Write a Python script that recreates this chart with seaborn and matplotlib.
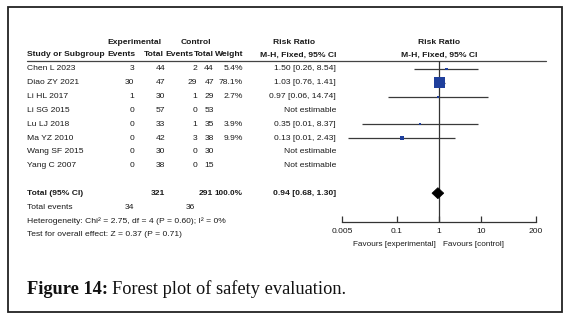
import numpy as np
import pandas as pd
import matplotlib
matplotlib.use("Agg")
import matplotlib.pyplot as plt
import seaborn as sns
from matplotlib.patches import Rectangle, Polygon
from matplotlib.ticker import NullLocator, FixedLocator, FixedFormatter

# ---------------- data ----------------
studies = ["Chen L 2023", "Diao ZY 2021", "Li HL 2017", "Li SG 2015",
           "Lu LJ 2018", "Ma YZ 2010", "Wang SF 2015", "Yang C 2007"]
exp_events = [3, 30, 1, 0, 0, 0, 0, 0]
exp_total = [44, 47, 30, 57, 33, 42, 30, 38]
ctrl_events = [2, 29, 1, 0, 1, 3, 0, 0]
ctrl_total = [44, 47, 29, 53, 35, 38, 30, 15]
weight = [5.4, 78.1, 2.7, np.nan, 3.9, 9.9, np.nan, np.nan]
rr = [1.50, 1.03, 0.97, np.nan, 0.35, 0.13, np.nan, np.nan]
rr_lo = [0.26, 0.76, 0.06, np.nan, 0.0149, 0.0069, np.nan, np.nan]
rr_hi = [8.54, 1.41, 14.74, np.nan, 8.37, 2.43, np.nan, np.nan]

total_exp = 321
total_ctrl = 291
total_weight = 100.0
total_rr, total_lo, total_hi = 0.94, 0.68, 1.30
total_events_exp, total_events_ctrl = 34, 36
heterogeneity = "Heterogeneity: Chi\u00b2 = 2.75, df = 4 (P = 0.60); I\u00b2 = 0%"
overall_effect = "Test for overall effect: Z = 0.37 (P = 0.71)"

xticks = [0.005, 0.1, 1, 10, 200]
xtick_labels = ["0.005", "0.1", "1", "10", "200"]
favours_left = "Favours [experimental]"
favours_right = "Favours [control]"
caption_bold = "Figure 14:"
caption_text = "Forest plot of safety evaluation."

# ---------------- layout ----------------
W, H = 570, 321
ROW0, DY = 69.0, 13.8
PX_PER_DEC, X_ONE = 42.0, 439.0
AX_L, AX_R, AX_T, AX_B = 330, 552, 60.5, 222

sns.set_theme(style="white")
plt.rcParams['font.family'] = ['Liberation Sans', 'DejaVu Sans']
TXT = "#1a1a1a"
FS = 6.1

fig = plt.figure(figsize=(W / 100, H / 100), dpi=100)
tax = fig.add_axes([0, 0, 1, 1])
tax.set_xlim(0, W)
tax.set_ylim(H, 0)
tax.axis("off")

def t(x, y, s, ha="left", bold=False, size=FS, **kw):
    return tax.text(x, y, s, ha=ha, va="center", fontsize=size,
                    fontweight="bold" if bold else "normal", color=TXT, **kw)

# column right edges
C_EE, C_ET, C_CE, C_CT, C_W, C_RR = 134, 165, 197, 214, 243, 336

# headers
t(134, 42, "Experimental", ha="center", bold=True)
t(196, 42, "Control", ha="center", bold=True)
t(294, 42, "Risk Ratio", ha="center", bold=True)
t(X_ONE, 42, "Risk Ratio", ha="center", bold=True)
t(27, 55, "Study or Subgroup", bold=True)
t(136, 55, "Events", ha="right", bold=True)
t(163.5, 55, "Total", ha="right", bold=True)
t(193.5, 55, "Events", ha="right", bold=True)
t(C_CT, 55, "Total", ha="right", bold=True)
t(C_W, 55, "Weight", ha="right", bold=True)
t(C_RR, 55, "M-H, Fixed, 95% CI", ha="right", bold=True)
t(X_ONE, 55, "M-H, Fixed, 95% CI", ha="center", bold=True)
tax.plot([27, 546], [AX_T, AX_T], color="#444444", lw=0.9)

# study rows
for i, name in enumerate(studies):
    y = ROW0 + DY * i
    t(27, y, name)
    t(C_EE, y, str(exp_events[i]), ha="right")
    t(C_ET, y, str(exp_total[i]), ha="right")
    t(C_CE, y, str(ctrl_events[i]), ha="right")
    t(C_CT, y, str(ctrl_total[i]), ha="right")
    if not np.isnan(weight[i]):
        t(C_W, y, f"{weight[i]:.1f}%", ha="right")
        t(C_RR, y, f"{rr[i]:.2f} [{rr_lo[i]:.2f}, {rr_hi[i]:.2f}]", ha="right")
    else:
        t(C_RR, y, "Not estimable", ha="right")

# totals
TOT_ROW = len(studies) + 1
yT = ROW0 + DY * TOT_ROW
t(27, yT, "Total (95% CI)", bold=True)
t(C_ET, yT, str(total_exp), ha="right", bold=True)
t(C_CT - 1, yT, str(total_ctrl), ha="right", bold=True)
t(C_W, yT, f"{total_weight:.1f}%", ha="right", bold=True, size=5.9)
t(C_RR, yT, f"{total_rr:.2f} [{total_lo:.2f}, {total_hi:.2f}]", ha="right", bold=True)
t(27, 207.5, "Total events")
t(C_EE, 207.5, str(total_events_exp), ha="right")
t(195, 207.5, str(total_events_ctrl), ha="right")
t(27, 221, heterogeneity)
t(27, 234, overall_effect)

# favours labels
t(436, 244.5, favours_left, ha="right", size=5.9)
t(443, 244.5, favours_right, ha="left", size=5.9)

# ---------------- forest axes ----------------
fax = fig.add_axes([AX_L / W, (H - AX_B) / H, (AX_R - AX_L) / W, (AX_B - AX_T) / H])
fax.set_facecolor("none")
fax.set_xscale("log")
fax.set_xlim(10 ** ((AX_L - X_ONE) / PX_PER_DEC), 10 ** ((AX_R - X_ONE) / PX_PER_DEC))
fax.set_ylim((AX_B - ROW0) / DY, (AX_T - ROW0) / DY)
for side in ["top", "left", "right"]:
    fax.spines[side].set_visible(False)
fax.spines["bottom"].set_bounds(xticks[0], xticks[-1])
fax.spines["bottom"].set_color("#333333")
fax.spines["bottom"].set_linewidth(0.9)

fax.axvline(1, color="#333333", lw=0.9, zorder=1)

df = pd.DataFrame({"row": np.arange(len(studies)), "rr": rr, "lo": rr_lo,
                   "hi": rr_hi, "weight": weight}).dropna()
fax.hlines(df["row"], df["lo"], df["hi"], color="#3a3a3a", lw=0.9, zorder=2)
sns.scatterplot(data=df, x="rr", y="row", size="weight", sizes=(0, 63),
                size_norm=(0, 78.1), marker="s", color="#1f3f9c",
                linewidth=0, legend=False, ax=fax, zorder=3)

fax.xaxis.set_major_locator(FixedLocator(xticks))
fax.xaxis.set_major_formatter(FixedFormatter(xtick_labels))
fax.xaxis.set_minor_locator(NullLocator())
fax.tick_params(axis="x", bottom=True, direction="in", length=4.5, width=0.9,
                color="#333333", labelsize=6.1, labelcolor=TXT, pad=4)
fax.set_yticks([])
fax.set_xlabel("")
fax.set_ylabel("")

dh = 0.4
fax.add_patch(Polygon([(total_lo, TOT_ROW), (total_rr, TOT_ROW - dh),
                       (total_hi, TOT_ROW), (total_rr, TOT_ROW + dh)],
                      closed=True, facecolor="black", edgecolor="black", lw=0.5, zorder=4))

# ---------------- caption & border ----------------
fig.canvas.draw()
r = fig.canvas.get_renderer()
CAP_FS = 13.2
cap1 = tax.text(27, 289, caption_bold, ha="left", va="center", fontsize=CAP_FS,
                fontweight="bold", family=["Liberation Serif", "DejaVu Serif"], color="#111111")
bb = cap1.get_window_extent(renderer=r)
tax.text(bb.x1 + 4, 289, caption_text, ha="left", va="center", fontsize=CAP_FS,
         family=["Liberation Serif", "DejaVu Serif"], color="#111111")

tax.add_patch(Rectangle((8, 7), 554, 305, fill=False, edgecolor="#222222", lw=1.3, clip_on=False))

fig.savefig("out.png", dpi=100)
